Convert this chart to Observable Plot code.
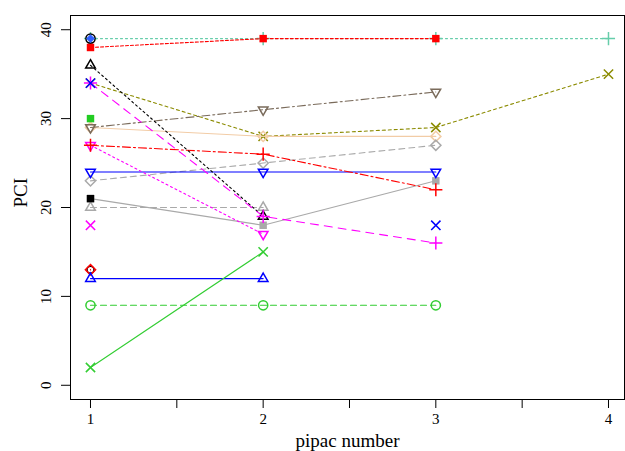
<!DOCTYPE html>
<html><head><meta charset="utf-8">
<script src="https://cdn.jsdelivr.net/npm/d3@7"></script>
<script src="https://cdn.jsdelivr.net/npm/@observablehq/plot@0.6"></script>
<style>body{margin:0;background:#fff;}</style>
</head><body><div id="chart"></div>
<script>
// ---- data ----
const pipac = [1, 2, 3, 4];
const xTicks = [1, 1.5, 2, 2.5, 3, 3.5, 4];
const xTickLabels = [1, 2, 3, 4];
const yTicks = [0, 10, 20, 30, 40];
const xTitle = "pipac number";
const yTitle = "PCI";

const pciOlive      = [34, 28, 29, 35];
const pciBeige      = [29, 28, 28, null];
const pciBrown      = [29, 31, 33, null];
const pciGreyDiam   = [23, 25, 27, null];
const pciGreySq     = [21, 18, 23, null];
const pciGreyTri    = [20, 20, null, null];
const pciBlackSq    = [21, null, null, null];
const pciBlueDown   = [24, 24, 24, null];
const pciMagDown    = [27, 17, null, null];
const pciRedPlus    = [27, 26, 22, null];
const pciBlackTri   = [36, 19, null, null];
const pciMagPlus    = [34, 19, 16, null];
const pciBlueX      = [34, null, 18, null];
const pciGreenSq    = [30, null, null, null];
const pciMagX       = [18, null, null, null];
const pciBlackCirc  = [13, null, null, null];
const pciRedDiam    = [13, null, null, null];
const pciBlueTri    = [12, 12, null, null];
const pciGreenCirc  = [9, 9, 9, null];
const pciGreenX     = [2, 15, null, null];
const pciCyanPlus   = [39, 39, 39, 39];
const pciBlackCirc2 = [39, null, null, null];
const pciBlueDiam   = [39, null, null, null];
const pciRedSq      = [38, 39, 39, null];

// ---- styles (separate from data) ----
const series = [
  {v: pciCyanPlus,   c: "#66CDAA", dash: "2,3", sym: "plus"},
  {v: pciOlive,      c: "#8B8B00", dash: "3,3", sym: "times"},
  {v: pciBeige,      c: "#F2CCA6", dash: null, sym: "diamond2"},
  {v: pciBrown,      c: "#7A6B5B", dash: "8,3,2,3", sym: "triangle2", rot: 180},
  {v: pciGreyDiam,   c: "#A9A9A9", dash: "6,4", sym: "diamond2"},
  {v: pciGreySq,     c: "#A9A9A9", dash: null, sym: "square", filled: true},
  {v: pciGreyTri,    c: "#A9A9A9", dash: "6,4", sym: "triangle2"},
  {v: pciBlackSq,    c: "#000000", dash: null, sym: "square", filled: true},
  {v: pciBlueDown,   c: "#0000FF", dash: null, sym: "triangle2", rot: 180},
  {v: pciMagDown,    c: "#FF00FF", dash: "2,3", sym: "triangle2", rot: 180},
  {v: pciRedPlus,    c: "#FF0000", dash: "8,3,2,3", sym: "plus"},
  {v: pciBlackTri,   c: "#000000", dash: "2,3", sym: "triangle2"},
  {v: pciMagPlus,    c: "#FF00FF", dash: "8,6", sym: "plus"},
  {v: pciBlueX,      c: "#0000FF", dash: null, sym: "times"},
  {v: pciGreenSq,    c: "#22CC22", dash: null, sym: "square", filled: true},
  {v: pciMagX,       c: "#FF00FF", dash: null, sym: "times"},
  {v: pciBlackCirc,  c: "#000000", dash: null, sym: "circle", r: 3.5},
  {v: pciRedDiam,    c: "#FF0000", dash: null, sym: "diamond2"},
  {v: pciBlueTri,    c: "#0000FF", dash: null, sym: "triangle2"},
  {v: pciGreenCirc,  c: "#32CD32", dash: "6,4", sym: "circle"},
  {v: pciGreenX,     c: "#32CD32", dash: null, sym: "times"},
  {v: pciBlackCirc2, c: "#000000", dash: null, sym: "circle"},
  {v: pciBlueDiam,   c: "#3060FF", dash: null, sym: "diamond2", filled: true, r: 4},
  {v: pciRedSq,      c: "#FF0000", dash: "3,2", sym: "square", filled: true}
];

const font = "Liberation Serif, Times New Roman, serif";
const marks = [];
for (const s of series) {
  const rows = pipac.map((x, i) => ({x, y: s.v[i]}));
  marks.push(Plot.line(rows, {x: "x", y: "y", stroke: s.c, strokeWidth: 1.1,
    strokeDasharray: s.dash || undefined}));
  const big = s.sym === "plus" || s.sym === "times";
  marks.push(Plot.dot(rows.filter(d => d.y != null), {
    x: "x", y: "y", symbol: s.sym,
    r: s.r || (big ? 4.3 : (s.sym === "square" ? 4.2 : 4.6)),
    stroke: s.filled ? "none" : s.c,
    fill: s.filled ? s.c : "none",
    strokeWidth: 1.5,
    rotate: s.rot || 0
  }));
}

const chart = Plot.plot({
  width: 625, height: 451,
  marginLeft: 70, marginRight: 1, marginTop: 15, marginBottom: 52,
  style: {fontFamily: font, background: "#fff", color: "#000"},
  x: {domain: [0.8842, 4.0927]},
  y: {domain: [-1.6, 41.6]},
  marks: [
    ...marks,
    Plot.frame({stroke: "#000", strokeWidth: 1}),
    Plot.axisX(xTicks, {tickSize: 9, tickPadding: 5, fontSize: 15, label: null,
      tickFormat: d => xTickLabels.includes(d) ? String(d) : ""}),
    Plot.axisY(yTicks, {tickSize: 9, tickPadding: 11, tickRotate: -90, fontSize: 15, label: null}),
    Plot.text([xTitle], {frameAnchor: "bottom", dy: 41, fontSize: 19, fontFamily: font, lineAnchor: "middle"}),
    Plot.text([yTitle], {frameAnchor: "left", dx: -50, rotate: -90, fontSize: 19, fontFamily: font, lineAnchor: "middle"})
  ]
});
document.getElementById("chart").appendChild(chart);
</script>
</body></html>
